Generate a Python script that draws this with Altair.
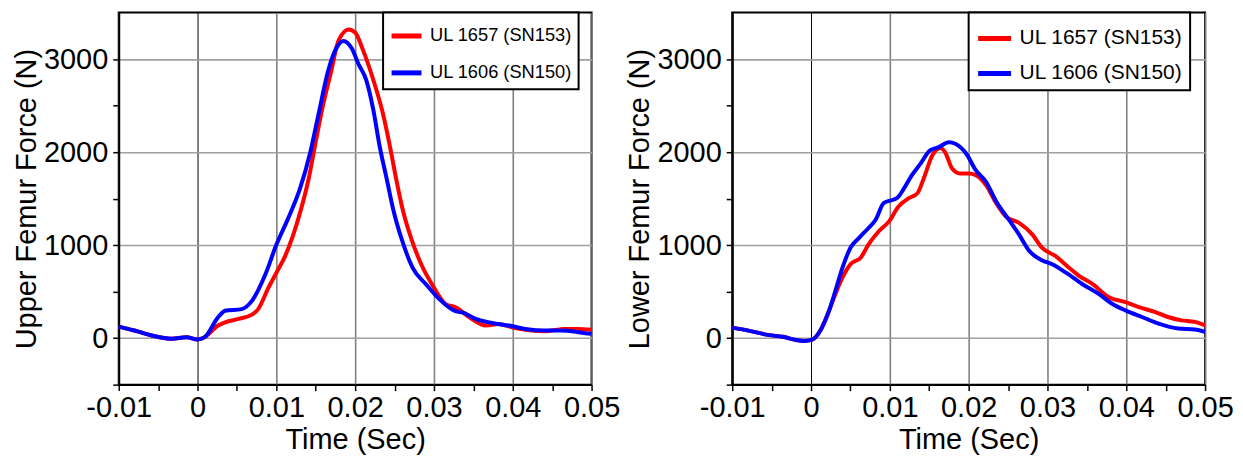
import altair as alt
import pandas as pd

RED_NAME = "UL 1657 (SN153)"
BLUE_NAME = "UL 1606 (SN150)"

# ---- Upper femur (left panel) ----
upper_red_t = [-0.01, -0.008, -0.0058, -0.0033, -0.0014, 0.0, 0.0009, 0.0026, 0.0035, 0.0052,
               0.0069, 0.0077, 0.009, 0.01, 0.0111, 0.0128, 0.0141, 0.0149, 0.0158, 0.017,
               0.0179, 0.0192, 0.02, 0.021, 0.0223, 0.0235, 0.0244, 0.0252, 0.026, 0.0271,
               0.0284, 0.03, 0.0315, 0.0328, 0.0345, 0.0366, 0.0382, 0.0399, 0.0424, 0.0441,
               0.0466, 0.0483, 0.05]
upper_red_f = [124, 82, 28, -7, 10, -14, 10, 135, 170, 206,
               252, 312, 543, 702, 879, 1287, 1713, 2067, 2457, 2883,
               3202, 3318, 3285, 3096, 2777, 2422, 2067, 1713, 1394, 1074,
               791, 543, 365, 330, 223, 135, 152, 117, 82, 74,
               99, 99, 89]

upper_blue_t = [-0.01, -0.008, -0.0058, -0.0033, -0.0014, 0.0, 0.0009, 0.0026, 0.0035, 0.0056,
                0.0069, 0.0086, 0.01, 0.0115, 0.013, 0.0143, 0.0153, 0.0166, 0.0177, 0.0185,
                0.0196, 0.0204, 0.0214, 0.0223, 0.0231, 0.024, 0.0248, 0.026, 0.0273, 0.029,
                0.0307, 0.0328, 0.0336, 0.0353, 0.0374, 0.0395, 0.0416, 0.0441, 0.0462, 0.0483,
                0.05]
upper_blue_f = [124, 82, 28, -7, 10, -14, 10, 223, 294, 312,
                400, 684, 1003, 1287, 1606, 1996, 2386, 2883, 3131, 3195,
                3110, 2950, 2777, 2457, 2067, 1713, 1394, 1039, 755, 578,
                418, 287, 277, 206, 163, 135, 99, 82, 82, 64,
                46]

# ---- Lower femur (right panel) ----
lower_red_t = [-0.01, -0.0078, -0.0053, -0.0036, -0.0019, -0.0009, 0.0002, 0.0012, 0.0023, 0.0031,
               0.004, 0.005, 0.0063, 0.0073, 0.0086, 0.0099, 0.0111, 0.0124, 0.0135, 0.0143,
               0.0154, 0.0164, 0.017, 0.0179, 0.0189, 0.02, 0.0209, 0.0222, 0.0235, 0.0247,
               0.0264, 0.0281, 0.0293, 0.031, 0.0327, 0.034, 0.0357, 0.0378, 0.0399, 0.0416,
               0.0437, 0.0453, 0.047, 0.0487, 0.05]
lower_red_f = [113, 78, 32, 14, -21, -32, -14, 85, 298, 475,
               652, 794, 865, 1007, 1149, 1255, 1415, 1504, 1557, 1716,
               1965, 2043, 2000, 1823, 1770, 1770, 1752, 1645, 1450, 1309,
               1238, 1113, 972, 883, 759, 670, 582, 440, 387, 333,
               280, 227, 191, 174, 138]

lower_blue_t = [-0.01, -0.0078, -0.0053, -0.0036, -0.0019, -0.0009, 0.0002, 0.0012, 0.0023, 0.0031,
                0.004, 0.005, 0.0061, 0.0073, 0.0082, 0.0092, 0.0099, 0.0109, 0.0118, 0.0128,
                0.0139, 0.0151, 0.0162, 0.0175, 0.0183, 0.0197, 0.0209, 0.0222, 0.0235, 0.0251,
                0.0264, 0.0277, 0.0293, 0.0306, 0.0323, 0.0344, 0.0365, 0.0382, 0.0399, 0.042,
                0.0441, 0.0466, 0.0487, 0.05]
lower_blue_f = [113, 78, 32, 14, -21, -32, -14, 85, 298, 511,
                759, 972, 1078, 1184, 1273, 1450, 1475, 1504, 1610, 1752,
                1876, 2018, 2053, 2106, 2089, 1982, 1805, 1681, 1468, 1273,
                1113, 936, 837, 794, 706, 582, 475, 369, 298, 227,
                156, 103, 92, 67]

x_tick_values = [-0.01, -0.005, 0.0, 0.005, 0.01, 0.015, 0.02, 0.025, 0.03, 0.035, 0.04, 0.045, 0.05]
y_tick_values = [-500, 0, 500, 1000, 1500, 2000, 2500, 3000]

FONT = "Liberation Sans, Arial, sans-serif"


def make_df(rt, rf, bt, bf):
    return pd.concat([
        pd.DataFrame({"t": rt, "f": rf, "series": RED_NAME}),
        pd.DataFrame({"t": bt, "f": bf, "series": BLUE_NAME}),
    ], ignore_index=True)


def panel(df, ytitle, legend_font, legend_pad, sym_size, row_pad, leg_x):
    major_x = "abs(datum.value*100 - round(datum.value*100)) < 1e-6"
    x = alt.X(
        "t:Q",
        scale=alt.Scale(domain=[-0.01, 0.05], nice=False, zero=False),
        axis=alt.Axis(
            values=x_tick_values,
            title="Time (Sec)",
            labelExpr=f"{major_x} ? (datum.value < -1e-9 ? '-' + format(-datum.value, '.2f') : (abs(datum.value) < 1e-9 ? '0' : format(datum.value, '.2f'))) : ''",
            gridColor={"condition": [{"test": "abs(datum.value) < 1e-9", "value": "#000000"},
                                     {"test": major_x, "value": "#808080"}],
                       "value": "transparent"},
            gridWidth={"condition": {"test": "abs(datum.value) < 1e-9", "value": 1}, "value": 1.6},
            labelFlush=False,
            labelOverlap=False,
            labelPadding=3,
            titlePadding=3,
        ),
    )
    y = alt.Y(
        "f:Q",
        scale=alt.Scale(domain=[-500, 3500], nice=False, zero=False),
        axis=alt.Axis(
            values=y_tick_values,
            format="d",
            title=ytitle,
            labelExpr="datum.value % 1000 === 0 ? datum.label : ''",
            gridColor={"condition": {"test": "datum.value % 1000 === 0", "value": "#a0a0a0"},
                       "value": "transparent"},
            gridWidth=1.6,
            labelOverlap=False,
            labelPadding=5,
            titlePadding=2,
        ),
    )
    color = alt.Color(
        "series:N",
        scale=alt.Scale(domain=[RED_NAME, BLUE_NAME], range=["#ff0000", "#0000ff"]),
        legend=alt.Legend(
            title=None,
            orient="none",
            legendX=leg_x,
            legendY=0,
            fillColor="white",
            strokeColor="black",
            padding=legend_pad,
            symbolType="stroke",
            symbolStrokeWidth=5,
            symbolSize=sym_size,
            labelFontSize=legend_font,
            labelFont=FONT,
            labelColor="black",
            labelOffset=6,
            labelLimit=400,
            rowPadding=row_pad,
        ),
    )
    base = alt.Chart(df)
    red = base.transform_filter(alt.datum.series == RED_NAME).mark_line(
        strokeWidth=4, interpolate="monotone").encode(x=x, y=y, color=color)
    blue = base.transform_filter(alt.datum.series == BLUE_NAME).mark_line(
        strokeWidth=4, interpolate="monotone").encode(x=x, y=y, color=color)
    return alt.layer(red, blue).properties(width=474, height=373)


left = panel(make_df(upper_red_t, upper_red_f, upper_blue_t, upper_blue_f),
             "Upper Femur Force (N)", 18.3, 6, 900, 9, 265)
right = panel(make_df(lower_red_t, lower_red_f, lower_blue_t, lower_blue_f),
              "Lower Femur Force (N)", 21, 7, 1089, 6, 237)

chart = alt.hconcat(left, right, spacing=3).resolve_scale(color="independent").properties(
    padding={"left": 3, "top": 2, "right": 0, "bottom": 0}
).configure_view(
    stroke="black", strokeWidth=2
).configure_axis(
    domainColor="black", domainWidth=2,
    tickColor="black", tickWidth=1.5, tickSize=6,
    labelFont=FONT, labelFontSize=29, labelColor="black",
    titleFont=FONT, titleFontSize=29, titleFontWeight="normal", titleColor="black",
).configure_legend(
    strokeWidth=2
)

chart.save("out.html", embed_options={"renderer": "svg", "actions": False})
